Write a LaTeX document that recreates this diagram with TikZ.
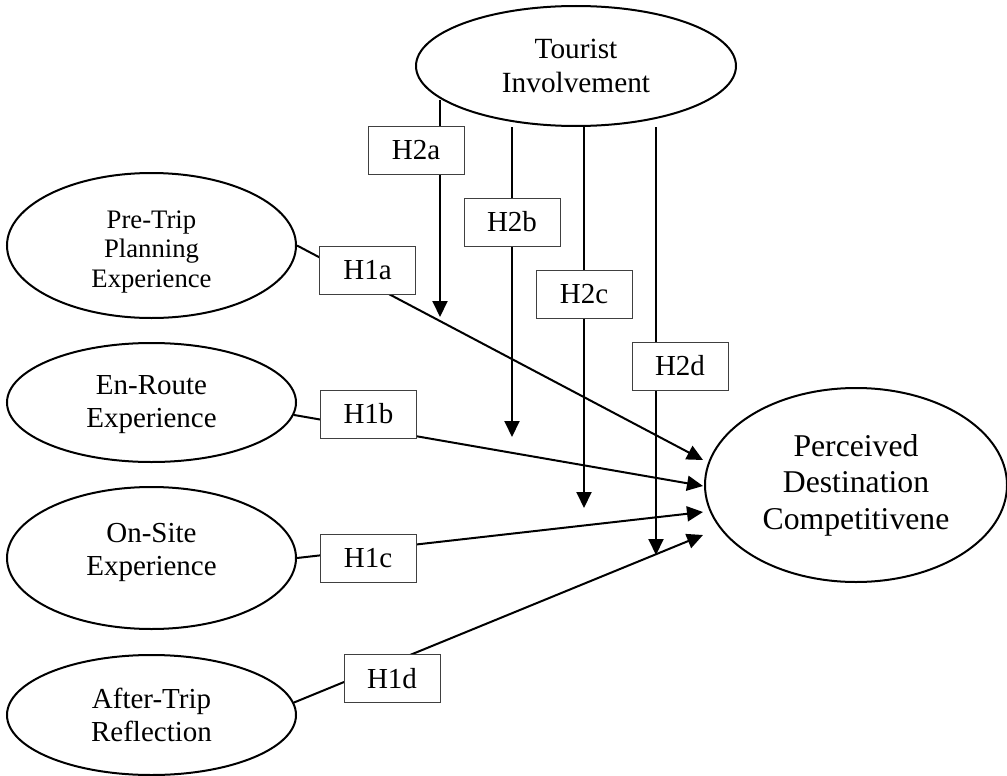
\documentclass[tikz,border=0pt]{standalone}
\usepackage{fontspec}
\setmainfont{Liberation Serif}
\usetikzlibrary{shapes.geometric,arrows.meta}
\pgfdeclarelayer{bg}
\pgfsetlayers{bg,main}
\begin{document}
\begin{tikzpicture}[x=1pt,y=-1pt,
  ell/.style={draw, ellipse, line width=2pt, inner sep=0pt, align=center},
  txt/.style={inner sep=0pt, align=center, font=\fontsize{29}{33}\selectfont},
  hbox/.style={draw=black!75, line width=1pt, fill=white, minimum width=96pt, minimum height=48pt, inner sep=0pt, font=\fontsize{29}{33}\selectfont},
  conn/.style={line width=2pt},
  arr/.style={conn, -{Triangle[length=16pt,width=15pt]}}]
\useasboundingbox (0,0) rectangle (1007,776);
% construct ellipses
\node[ell, minimum width=320pt, minimum height=120pt, font=\fontsize{29.3}{34}\selectfont] (tour) at (576,66) {Tourist\\Involvement};
\node[ell, minimum width=289pt, minimum height=145pt] (pre) at (151.5,245.5) {};
\node[txt, font=\fontsize{26.7}{29.6}\selectfont] (pre-t) at ([yshift=-6.5pt]pre.center) {Pre-Trip\\Planning\\Experience};
\node[ell, minimum width=289pt, minimum height=119pt] (en) at (151.5,402.5) {};
\node[txt] (en-t) at ([yshift=-2pt]en.center) {En-Route\\Experience};
\node[ell, minimum width=289pt, minimum height=142pt] (on) at (151.5,558) {};
\node[txt] (on-t) at ([yshift=5.5pt]on.center) {On-Site\\Experience};
\node[ell, minimum width=289pt, minimum height=120pt, font=\fontsize{29}{33}\selectfont] (after) at (151.5,715) {After-Trip\\Reflection};
\node[ell, minimum width=302pt, minimum height=194pt, font=\fontsize{31.7}{36.5}\selectfont] (perc) at (856,485) {Perceived\\Destination\\Competitivene};
% hypothesis labels
\node[hbox] (h1a) at (367.5,270.5) {H1a};
\node[hbox] (h1b) at (368.5,414) {H1b};
\node[hbox] (h1c) at (368,558) {H1c};
\node[hbox] (h1d) at (392,678.5) {H1d};
\node[hbox] (h2a) at (416,150) {H2a};
\node[hbox] (h2b) at (512,222) {H2b};
\node[hbox] (h2c) at (584,294) {H2c};
\node[hbox] (h2d) at (680,366) {H2d};
% connector ends
\coordinate (t1) at (703,460);
\coordinate (t2) at (703,486);
\coordinate (t3) at (703,512);
\coordinate (t4) at (703,535);
\coordinate (s1) at (440,100);
\coordinate (e1) at (440,317);
\coordinate (e2) at (512,437);
\coordinate (e3) at (584,508);
\coordinate (e4) at (656,555);
\begin{pgfonlayer}{bg}
\draw[arr] (pre.east) -- (t1);
\draw[arr] (en.-5) -- (t2);
\draw[arr] (on.east) -- (t3);
\draw[arr] (after.5) -- (t4);
\draw[arr] (s1) -- (e1);
\draw[arr] (h2b.north |- tour.south) -- (e2);
\draw[arr] (h2c.north |- tour.south) -- (e3);
\draw[arr] (e4 |- tour.south) -- (e4);
\end{pgfonlayer}
\end{tikzpicture}
\end{document}
